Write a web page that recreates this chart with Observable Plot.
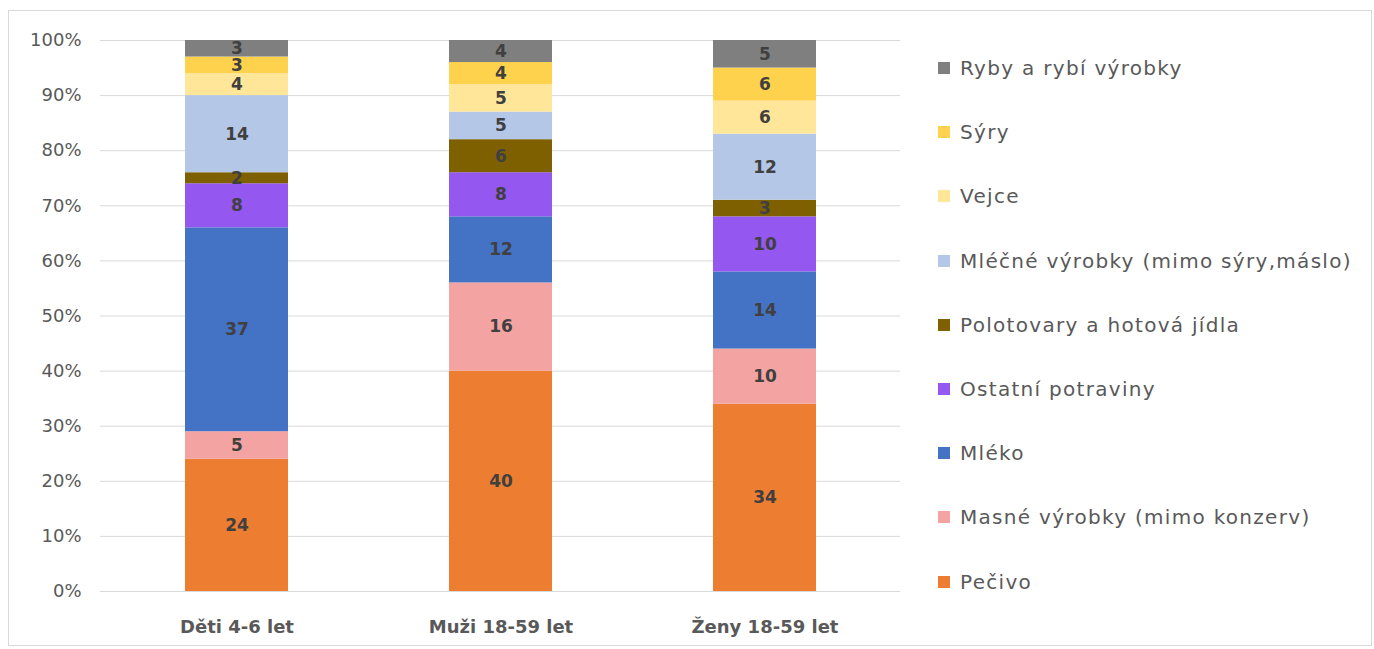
<!DOCTYPE html>
<html>
<head>
<meta charset="utf-8">
<script src="https://cdn.jsdelivr.net/npm/d3@7"></script>
<script src="https://cdn.jsdelivr.net/npm/@observablehq/plot@0.6"></script>
<style>
  html, body { margin: 0; padding: 0; background: #fff; }
  #wrap { position: relative; width: 1374px; height: 649px; font-family: "DejaVu Sans", sans-serif; }
  #frame { position: absolute; left: 8px; top: 10px; width: 1364px; height: 636px; border: 1px solid #d9d9d9; box-sizing: border-box; }
  #chart { position: absolute; left: 0; top: 0; }
  #legend { position: absolute; left: 938px; top: 36px; }
  .item { display: flex; align-items: center; height: 64.2px; font-size: 20px; letter-spacing: 1.3px; color: #595959; }
  .sw { width: 12px; height: 12px; margin-right: 10px; }
</style>
</head>
<body>
<div id="wrap"><div id="frame"></div><div id="chart"></div><div id="legend"></div></div>
<script>
const categories = ["Děti 4-6 let", "Muži 18-59 let", "Ženy 18-59 let"];
const series = ["Pečivo", "Masné výrobky (mimo konzerv)", "Mléko", "Ostatní potraviny", "Polotovary a hotová jídla", "Mléčné výrobky (mimo sýry,máslo)", "Vejce", "Sýry", "Ryby a rybí výrobky"];
const colors = ["#ED7D31", "#F4A3A3", "#4472C4", "#9457F0", "#7F6000", "#B4C7E7", "#FFE699", "#FFD24D", "#7F7F7F"];
const valuesDeti = [24, 5, 37, 8, 2, 14, 4, 3, 3];
const valuesMuzi = [40, 16, 12, 8, 6, 5, 5, 4, 4];
const valuesZeny = [34, 10, 14, 10, 3, 12, 6, 6, 5];
const yTicks = [0, 10, 20, 30, 40, 50, 60, 70, 80, 90, 100];

const allValues = [valuesDeti, valuesMuzi, valuesZeny];
const data = [];
categories.forEach((c, i) => series.forEach((s, j) => data.push({cat: c, series: s, value: allValues[i][j]})));

const plot = Plot.plot({
  width: 920,
  height: 649,
  marginLeft: 100,
  marginRight: 20,
  marginTop: 40,
  marginBottom: 58,
  style: {fontFamily: "'DejaVu Sans', sans-serif", fontSize: "16px", color: "#595959", background: "transparent"},
  x: {domain: categories, paddingInner: 0.61, paddingOuter: 0.315, label: null},
  y: {domain: [0, 100], label: null, ticks: yTicks, tickFormat: d => d + "%"},
  color: {domain: series, range: colors},
  marks: [
    Plot.gridY(yTicks, {stroke: "#d9d9d9", strokeOpacity: 1}),
    Plot.axisY({ticks: yTicks, tickFormat: d => d + "%", tickSize: 0, tickPadding: 19, fontSize: 18, fill: "#595959", label: null}),
    Plot.axisX({tickSize: 0, tickPadding: 29, fontSize: 18, fontWeight: "bold", fill: "#595959", label: null}),
    Plot.barY(data, Plot.stackY({x: "cat", y: "value", fill: "series", order: series})),
    Plot.text(data, Plot.stackY({x: "cat", y: "value", z: "series", order: series, text: d => String(d.value), fill: "#404040", fontWeight: "bold", fontSize: 17}))
  ]
});
document.getElementById("chart").appendChild(plot);

const legend = document.getElementById("legend");
[...series].reverse().forEach(s => {
  const item = document.createElement("div");
  item.className = "item";
  const sw = document.createElement("div");
  sw.className = "sw";
  sw.style.background = colors[series.indexOf(s)];
  const t = document.createElement("span");
  t.textContent = s;
  item.appendChild(sw);
  item.appendChild(t);
  legend.appendChild(item);
});
</script>
</body>
</html>
